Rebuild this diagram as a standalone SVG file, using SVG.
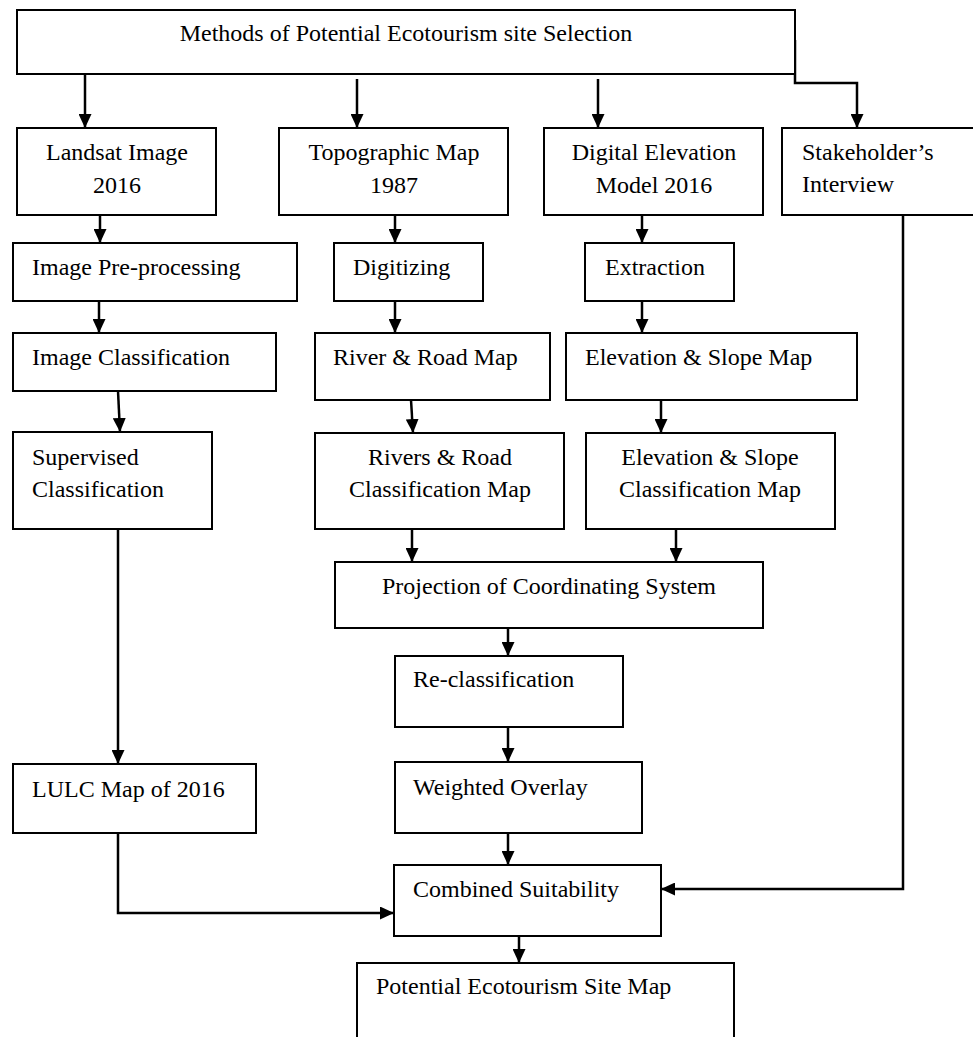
<svg xmlns="http://www.w3.org/2000/svg" width="973" height="1037" viewBox="0 0 973 1037">
<style>
.box{fill:#fff;stroke:#000;stroke-width:2}
.t{font-family:"Liberation Serif","Times New Roman",serif;font-size:24px;fill:#000}
.c{text-anchor:middle}
.ln{fill:none;stroke:#000;stroke-width:2.5;marker-end:url(#ah)}
</style>
<defs>
<marker id="ah" markerUnits="userSpaceOnUse" markerWidth="14" markerHeight="13" refX="14" refY="6.5" orient="auto">
<path d="M0,0 L14,6.5 L0,13 z" fill="#000"/>
</marker>
</defs>
<rect width="973" height="1037" fill="#fff"/>
<g id="connectors">
<path class="ln" d="M85,74 V128"/>
<path class="ln" d="M357,79 V128"/>
<path class="ln" d="M598,79 V128"/>
<path class="ln" d="M795,40 V83 H857 V128"/>
<path class="ln" d="M100,215 V243"/>
<path class="ln" d="M395,215 V243"/>
<path class="ln" d="M642,215 V243"/>
<path class="ln" d="M99,301 V333"/>
<path class="ln" d="M395,301 V333"/>
<path class="ln" d="M642,301 V333"/>
<path class="ln" d="M118,391 L120,432"/>
<path class="ln" d="M411,400 L413,433"/>
<path class="ln" d="M661,400 V433"/>
<path class="ln" d="M118,529 V764"/>
<path class="ln" d="M412,529 V562"/>
<path class="ln" d="M676,529 V562"/>
<path class="ln" d="M508,628 V656"/>
<path class="ln" d="M508,727 V762"/>
<path class="ln" d="M508,833 V865"/>
<path class="ln" d="M118,833 V913 H394"/>
<path class="ln" d="M903,215 V889 H661"/>
<path class="ln" d="M519,936 V963"/>
</g>
<g id="title"><rect class="box" x="17" y="10" width="778" height="64"/><text class="t c" x="406" y="41">Methods of Potential Ecotourism site Selection</text></g>
<g id="landsat"><rect class="box" x="17" y="128" width="199" height="87"/><text class="t c" x="117" y="160">Landsat Image</text><text class="t c" x="117" y="193">2016</text></g>
<g id="topo"><rect class="box" x="279" y="128" width="229" height="87"/><text class="t c" x="394" y="160">Topographic Map</text><text class="t c" x="394" y="193">1987</text></g>
<g id="dem"><rect class="box" x="544" y="128" width="219" height="87"/><text class="t c" x="654" y="160">Digital Elevation</text><text class="t c" x="654" y="193">Model 2016</text></g>
<g id="stakeholder"><rect class="box" x="782" y="128" width="193" height="87"/><text class="t" x="802" y="160">Stakeholder’s</text><text class="t" x="802" y="192">Interview</text></g>
<g id="imgpre"><rect class="box" x="13" y="243" width="284" height="58"/><text class="t" x="32" y="275">Image Pre-processing</text></g>
<g id="digitizing"><rect class="box" x="334" y="243" width="149" height="58"/><text class="t" x="353" y="275">Digitizing</text></g>
<g id="extraction"><rect class="box" x="585" y="243" width="149" height="58"/><text class="t" x="605" y="275">Extraction</text></g>
<g id="imgclass"><rect class="box" x="13" y="333" width="263" height="58"/><text class="t" x="32" y="365">Image Classification</text></g>
<g id="rivermap"><rect class="box" x="315" y="333" width="235" height="67"/><text class="t" x="333" y="365">River &amp; Road Map</text></g>
<g id="elevmap"><rect class="box" x="566" y="333" width="291" height="67"/><text class="t" x="585" y="365">Elevation &amp; Slope Map</text></g>
<g id="supervised"><rect class="box" x="13" y="432" width="199" height="97"/><text class="t" x="32" y="465">Supervised</text><text class="t" x="32" y="497">Classification</text></g>
<g id="riverclass"><rect class="box" x="315" y="433" width="249" height="96"/><text class="t c" x="440" y="465">Rivers &amp; Road</text><text class="t c" x="440" y="497">Classification Map</text></g>
<g id="elevclass"><rect class="box" x="586" y="433" width="249" height="96"/><text class="t c" x="710" y="465">Elevation &amp; Slope</text><text class="t c" x="710" y="497">Classification Map</text></g>
<g id="projection"><rect class="box" x="335" y="562" width="428" height="66"/><text class="t c" x="549" y="594">Projection of Coordinating System</text></g>
<g id="reclass"><rect class="box" x="395" y="656" width="228" height="71"/><text class="t" x="413" y="687">Re-classification</text></g>
<g id="weighted"><rect class="box" x="395" y="762" width="247" height="71"/><text class="t" x="413" y="795">Weighted Overlay</text></g>
<g id="lulc"><rect class="box" x="13" y="764" width="243" height="69"/><text class="t" x="32" y="797">LULC Map of 2016</text></g>
<g id="combined"><rect class="box" x="394" y="865" width="267" height="71"/><text class="t" x="413" y="897">Combined Suitability</text></g>
<g id="potential"><rect class="box" x="357" y="963" width="377" height="82"/><text class="t" x="376" y="994">Potential Ecotourism Site Map</text></g>
</svg>
